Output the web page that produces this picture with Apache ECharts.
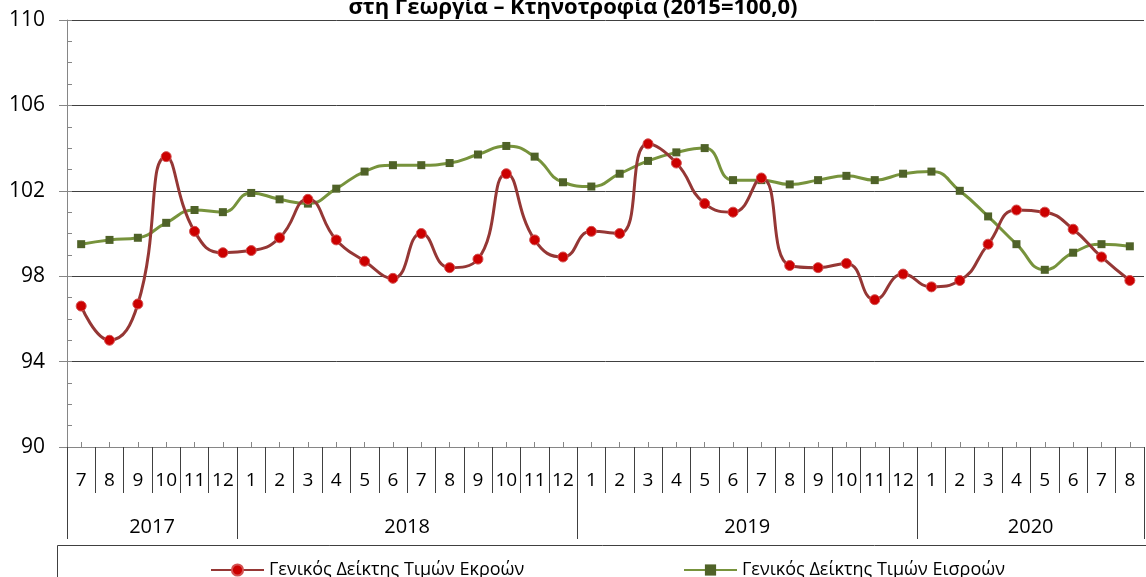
<!DOCTYPE html>
<html>
<head>
<meta charset="utf-8">
<script src="https://cdn.jsdelivr.net/npm/echarts@6.0.0/dist/echarts.min.js"></script>
<style>
    body { margin: 0; background: #fff; }
</style>
</head>
<body>
<div id="chart" style="width:1146px;height:577px;"></div>
<script>
// μήνες και έτη του άξονα Χ
var months = ['7', '8', '9', '10', '11', '12',
    '1', '2', '3', '4', '5', '6', '7', '8', '9', '10', '11', '12',
    '1', '2', '3', '4', '5', '6', '7', '8', '9', '10', '11', '12',
    '1', '2', '3', '4', '5', '6', '7', '8']
var years = ['2017', '2018', '2019', '2020']

// Γενικός Δείκτης Τιμών Εκροών
var outputs = [96.6, 95.0, 96.7, 103.6, 100.1, 99.1,
    99.2, 99.8, 101.6, 99.7, 98.7, 97.9, 100.0, 98.4, 98.8, 102.8, 99.7, 98.9,
    100.1, 100.0, 104.2, 103.3, 101.4, 101.0, 102.6, 98.5, 98.4, 98.6, 96.9, 98.1,
    97.5, 97.8, 99.5, 101.1, 101.0, 100.2, 98.9, 97.8]

// Γενικός Δείκτης Τιμών Εισροών
var inputs = [99.5, 99.7, 99.8, 100.5, 101.1, 101.0,
    101.9, 101.6, 101.4, 102.1, 102.9, 103.2, 103.2, 103.3, 103.7, 104.1, 103.6, 102.4,
    102.2, 102.8, 103.4, 103.8, 104.0, 102.5, 102.5, 102.3, 102.5, 102.7, 102.5, 102.8,
    102.9, 102.0, 100.8, 99.5, 98.3, 99.1, 99.5, 99.4]

var yTicks = [90, 94, 98, 102, 106, 110]

var seriesNames = ['Γενικός Δείκτης Τιμών Εκροών', 'Γενικός Δείκτης Τιμών Εισροών']

// όρια ετών (εκεί που ο μήνας γίνεται 1) και μέσα για τις ετικέτες
var yearEdges = [0]
for (var i = 1; i < months.length; i++) {
    if (months[i] === '1') yearEdges.push(i)
}
yearEdges.push(months.length)
var yearMids = []
for (var j = 0; j < yearEdges.length - 1; j++) {
    yearMids.push((yearEdges[j] + yearEdges[j + 1]) / 2)
}

var font = 'Open Sans'

var chart = echarts.init(document.getElementById('chart'))

var option = {
    backgroundColor: '#fff',
    animation: false,
    title: {
        text: 'στη Γεωργία – Κτηνοτροφία (2015=100,0)',
        left: 'center',
        top: -8,
        textStyle: { fontFamily: font, fontWeight: 'bold', fontSize: 22, color: '#000' }
    },
    grid: { left: 67, right: 2, top: 20, bottom: 130 },
    legend: [
        {
            data: [seriesNames[0]],
            left: 205, top: 556,
            itemWidth: 53, itemHeight: 14,
            textStyle: { fontFamily: font, fontSize: 18, color: '#000' }
        },
        {
            data: [seriesNames[1]],
            left: 678, top: 556,
            itemWidth: 53, itemHeight: 14,
            textStyle: { fontFamily: font, fontSize: 18, color: '#000' }
        }
    ],
    graphic: [
        {
            // πλαίσιο υπομνήματος
            type: 'rect',
            shape: { x: 57.5, y: 545.5, width: 1200, height: 100 },
            style: { fill: 'none', stroke: '#404040', lineWidth: 1 },
            z: -1
        }
    ],
    xAxis: [
        {
            type: 'category',
            data: months,
            position: 'bottom',
            axisLine: { lineStyle: { color: '#868686' } },
            axisTick: { show: true, inside: true, length: 5, alignWithLabel: true, interval: 0, lineStyle: { color: '#868686' } },
            axisLabel: { interval: 0, fontFamily: font, fontSize: 19, color: '#000', margin: 24 }
        },
        {
            // διαχωριστικά μηνών
            type: 'category',
            data: months,
            position: 'bottom',
            axisLine: { show: true, lineStyle: { color: '#868686' } },
            axisTick: { show: true, length: 46, interval: 0, alignWithLabel: false, lineStyle: { color: '#404040' } },
            axisLabel: { show: false }
        },
        {
            // έτη
            type: 'value',
            min: 0,
            max: months.length,
            position: 'bottom',
            axisLine: { show: false },
            splitLine: { show: false },
            axisTick: { show: true, customValues: yearEdges, length: 92, lineStyle: { color: '#404040' } },
            axisLabel: {
                customValues: yearMids,
                formatter: function (v) { return years[yearMids.indexOf(v)] },
                fontFamily: font, fontSize: 20, color: '#000', margin: 70
            }
        }
    ],
    yAxis: [
        {
            type: 'value',
            min: yTicks[0],
            max: yTicks[yTicks.length - 1],
            interval: yTicks[1] - yTicks[0],
            position: 'left',
            axisLine: { show: true, lineStyle: { color: '#868686' } },
            axisTick: { show: true, length: 8, lineStyle: { color: '#868686' } },
            axisLabel: { fontFamily: font, fontSize: 21, color: '#000', margin: 22 },
            splitLine: { showMinLine: false, lineStyle: { color: '#404040', width: 1 } }
        },
        {
            // μικρές υποδιαιρέσεις
            type: 'value',
            min: yTicks[0],
            max: yTicks[yTicks.length - 1],
            interval: 1,
            position: 'left',
            axisLine: { show: false },
            axisTick: { show: true, inside: true, length: 5, lineStyle: { color: '#868686' } },
            axisLabel: { show: false },
            splitLine: { show: false }
        }
    ],
    series: [
        {
            name: seriesNames[0],
            type: 'line',
            data: outputs,
            smooth: 0.5,
            symbol: 'circle',
            symbolSize: 10,
            lineStyle: { color: '#953735', width: 3 },
            itemStyle: { color: '#CC0000', borderColor: '#D45050', borderWidth: 1 },
            z: 3
        },
        {
            name: seriesNames[1],
            type: 'line',
            data: inputs,
            smooth: 0.5,
            symbol: 'rect',
            symbolSize: 8,
            lineStyle: { color: '#77933C', width: 3 },
            itemStyle: { color: '#4F6228' },
            z: 2
        }
    ]
}

chart.setOption(option)
</script>
</body>
</html>
